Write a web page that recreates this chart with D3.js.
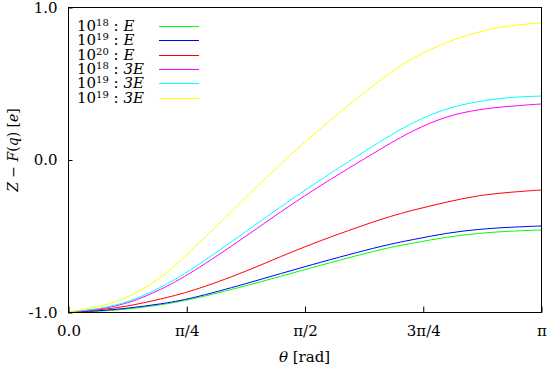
<!DOCTYPE html>
<html>
<head>
<meta charset="utf-8">
<script src="https://cdn.jsdelivr.net/npm/d3@7"></script>
<style>
  body { margin: 0; background: #fff; }
  svg { display: block; }
  text { font-family: "DejaVu Serif", "Liberation Serif", serif; fill: #000; }
</style>
</head>
<body>
<div id="chart"></div>
<script>
// theta as a fraction of pi
const thetaFrac = [0, 0.068, 0.131, 0.195, 0.258, 0.375, 0.49, 0.66, 0.73, 0.80, 0.87, 0.94, 1.0];

const e18 = [-1, -0.997, -0.980, -0.954, -0.921, -0.830, -0.731, -0.587, -0.548, -0.508, -0.482, -0.469, -0.462];
const e19 = [-1, -0.993, -0.974, -0.948, -0.915, -0.816, -0.711, -0.567, -0.525, -0.482, -0.456, -0.443, -0.436];
const e20 = [-1, -0.987, -0.961, -0.915, -0.869, -0.738, -0.580, -0.390, -0.331, -0.279, -0.233, -0.213, -0.200];
const e18x3 = [-1, -0.984, -0.941, -0.856, -0.751, -0.508, -0.252, 0.069, 0.193, 0.285, 0.331, 0.351, 0.364];
const e19x3 = [-1, -0.980, -0.934, -0.843, -0.731, -0.475, -0.220, 0.121, 0.246, 0.338, 0.384, 0.410, 0.416];
const e19x3b = [-1, -0.967, -0.902, -0.784, -0.607, -0.252, 0.095, 0.528, 0.672, 0.770, 0.843, 0.882, 0.895];

const seriesNames = [["18", "E"], ["19", "E"], ["20", "E"], ["18", "3E"], ["19", "3E"], ["19", "3E"]];
const seriesValues = [e18, e19, e20, e18x3, e19x3, e19x3b];
const seriesColors = ["#00ff00", "#0000ff", "#ff0000", "#ff00ff", "#00ffff", "#ffff00"];

const xTicks = [0, Math.PI / 4, Math.PI / 2, 3 * Math.PI / 4, Math.PI];
const xTickLabels = ["0.0", "π/4", "π/2", "3π/4", "π"];
const yTicks = [-1, 0, 1];
const yTickLabels = ["-1.0", "0.0", "1.0"];

const W = 547, H = 376;
const margin = { top: 7, right: 6, bottom: 64, left: 68 };
const w = W - margin.left - margin.right;
const h = H - margin.top - margin.bottom;
const serif = '"DejaVu Serif", "Liberation Serif", serif';

const svg = d3.select("#chart").append("svg")
    .attr("width", W)
    .attr("height", H);

const g = svg.append("g")
    .attr("transform", `translate(${margin.left},${margin.top})`);

const x = d3.scaleLinear().domain([0, Math.PI]).range([0, w]);
const y = d3.scaleLinear().domain([-1, 1]).range([h, 0]);

// curves (basis smooths small reading errors)
const line = d3.line()
    .x(d => x(d[0]))
    .y(d => y(d[1]))
    .curve(d3.curveBasis);

seriesValues.forEach((vals, i) => {
    let pts = thetaFrac.map((t, j) => [t * Math.PI, vals[j]]);
    g.append("path")
        .datum(pts)
        .attr("fill", "none")
        .attr("stroke", seriesColors[i])
        .attr("stroke-width", 1)
        .attr("d", line);
});

// frame
g.append("rect")
    .attr("x", 0.5).attr("y", 0.5)
    .attr("width", w).attr("height", h)
    .attr("fill", "none")
    .attr("stroke", "#000")
    .attr("stroke-width", 1);

// x axis
const xAxis = d3.axisBottom(x)
    .tickValues(xTicks)
    .tickSize(-6)
    .tickPadding(13)
    .tickFormat((d, i) => xTickLabels[i]);

const gx = g.append("g")
    .attr("transform", `translate(0.5,${h + 0.5})`)
    .attr("font-family", serif)
    .call(xAxis);
gx.select(".domain").remove();
gx.selectAll("text").attr("font-size", 15).style("font-family", serif);

// y axis
const yAxis = d3.axisLeft(y)
    .tickValues(yTicks)
    .tickSize(-4)
    .tickPadding(11)
    .tickFormat((d, i) => yTickLabels[i]);

const gy = g.append("g")
    .attr("transform", "translate(0.5,0.5)")
    .attr("font-family", serif)
    .call(yAxis);
gy.select(".domain").remove();
gy.selectAll("text").attr("font-size", 15).style("font-family", serif);

// axis titles
const xt = svg.append("text")
    .attr("x", margin.left + w / 2)
    .attr("y", 362)
    .attr("text-anchor", "middle")
    .attr("font-size", 15);
xt.append("tspan").attr("font-style", "italic").text("θ");
xt.append("tspan").text(" [rad]");

const yt = svg.append("text")
    .attr("transform", "translate(18,150) rotate(-90)")
    .attr("text-anchor", "middle")
    .attr("font-size", 14);
yt.append("tspan").attr("font-style", "italic").text("Z");
yt.append("tspan").text(" − ");
yt.append("tspan").attr("font-style", "italic").text("F");
yt.append("tspan").text("(");
yt.append("tspan").attr("font-style", "italic").text("q");
yt.append("tspan").text(") [");
yt.append("tspan").attr("font-style", "italic").text("e");
yt.append("tspan").text("]");

// legend
const legend = svg.append("g");
seriesNames.forEach((nm, i) => {
    let ly = 26 + i * 14.3;
    let t = legend.append("text")
        .attr("x", 77)
        .attr("y", ly + 5)
        .attr("font-size", 15);
    t.append("tspan").text("10");
    t.append("tspan").attr("font-size", 10).attr("dy", -5).text(nm[0]);
    t.append("tspan").attr("dy", 5).text(" : ");
    t.append("tspan").attr("font-style", "italic").text(nm[1]);
    legend.append("line")
        .attr("x1", 159).attr("x2", 199)
        .attr("y1", Math.round(ly) + 0.5).attr("y2", Math.round(ly) + 0.5)
        .attr("stroke", seriesColors[i])
        .attr("stroke-width", 1);
});
</script>
</body>
</html>
